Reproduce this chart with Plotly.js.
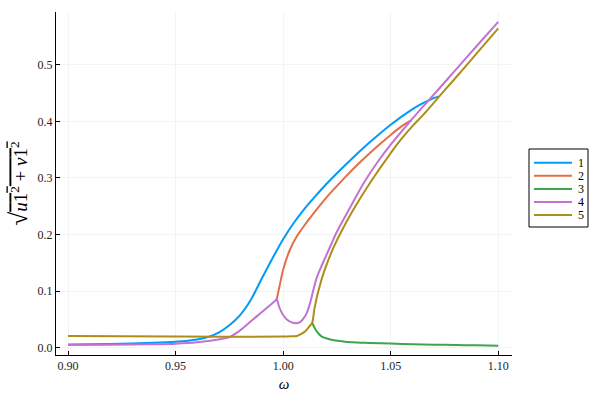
<!DOCTYPE html>
<html>
<head>
<meta charset="utf-8">
<script src="https://cdn.plot.ly/plotly-3.0.1.min.js"></script>
<style>html,body{margin:0;padding:0;background:#fff}#chart{width:600px;height:400px}</style>
</head>
<body>
<div id="chart"></div>
<script>
const seriesNames = ["1", "2", "3", "4", "5"];
const seriesColors = ["#009AFA", "#E36F47", "#3EA44E", "#C371D2", "#AC8E18"];

const omega1 = [0.90, 0.92, 0.94, 0.95, 0.96, 0.965, 0.97, 0.975, 0.98, 0.985, 0.99, 0.995, 1.00, 1.005, 1.01, 1.015, 1.02, 1.03, 1.04, 1.05, 1.06, 1.065, 1.07, 1.0726];
const amp1 = [0.006, 0.007, 0.009, 0.011, 0.015, 0.019, 0.027, 0.040, 0.058, 0.085, 0.122, 0.158, 0.192, 0.221, 0.246, 0.268, 0.289, 0.327, 0.362, 0.394, 0.421, 0.432, 0.441, 0.444];

const omega2 = [0.997, 0.9986, 1.0, 1.003, 1.0065, 1.0087, 1.0126, 1.02, 1.028, 1.035, 1.042, 1.05, 1.055, 1.0583, 1.0598];
const amp2 = [0.086, 0.114, 0.138, 0.172, 0.198, 0.210, 0.230, 0.265, 0.298, 0.325, 0.350, 0.376, 0.391, 0.399, 0.402];

const omega3 = [1.0135, 1.0150, 1.0165, 1.018, 1.020, 1.023, 1.027, 1.032, 1.04, 1.05, 1.06, 1.07, 1.08, 1.09, 1.10];
const amp3 = [0.0445, 0.033, 0.025, 0.020, 0.017, 0.014, 0.012, 0.010, 0.0088, 0.0076, 0.0066, 0.0058, 0.0051, 0.0045, 0.0040];

const omega4 = [0.90, 0.92, 0.94, 0.95, 0.96, 0.97, 0.975, 0.98, 0.985, 0.99, 0.9962, 0.997, 0.998, 0.999, 1.0, 1.0017, 1.004, 1.0063, 1.008, 1.0095, 1.011, 1.0126, 1.0141, 1.0157, 1.0172, 1.02, 1.0227, 1.025, 1.03, 1.0381, 1.045, 1.05, 1.055, 1.0595, 1.065, 1.07, 1.08, 1.09, 1.10];
const amp4 = [0.005, 0.0055, 0.0065, 0.0075, 0.010, 0.015, 0.019, 0.031, 0.047, 0.063, 0.083, 0.086, 0.074, 0.065, 0.058, 0.050, 0.045, 0.0435, 0.046, 0.052, 0.062, 0.080, 0.103, 0.125, 0.139, 0.163, 0.186, 0.205, 0.240, 0.295, 0.334, 0.359, 0.382, 0.402, 0.426, 0.447, 0.490, 0.533, 0.5755];

const omega5 = [0.90, 0.95, 1.0, 1.004, 1.0063, 1.008, 1.0102, 1.012, 1.0135, 1.0145, 1.0157, 1.0172, 1.0188, 1.021, 1.0234, 1.027, 1.032, 1.0405, 1.05, 1.055, 1.06, 1.065, 1.0726, 1.075, 1.08, 1.09, 1.10];
const amp5 = [0.021, 0.020, 0.020, 0.0205, 0.021, 0.024, 0.029, 0.037, 0.0445, 0.068, 0.090, 0.112, 0.132, 0.155, 0.177, 0.205, 0.240, 0.292, 0.344, 0.369, 0.391, 0.411, 0.444, 0.4545, 0.476, 0.520, 0.564];

const xTicks = [0.90, 0.95, 1.00, 1.05, 1.10];
const yTicks = [0.0, 0.1, 0.2, 0.3, 0.4, 0.5];

const xs = [omega1, omega2, omega3, omega4, omega5];
const ys = [amp1, amp2, amp3, amp4, amp5];

const font = "'Liberation Serif', 'DejaVu Serif', serif";

const traces = seriesNames.map((n, i) => ({
  x: xs[i], y: ys[i], name: n, type: 'scatter', mode: 'lines',
  line: {color: seriesColors[i], width: 2, shape: 'spline', smoothing: 0.8},
  showlegend: false
}));

// plot area in pixels (for legend placement)
const PL = 56, PR = 512, PT = 12, PB = 355;
const px2x = p => (p - PL) / (PR - PL);
const px2y = p => (PB - p) / (PB - PT);

const shapes = [{
  type: 'rect', xref: 'paper', yref: 'paper',
  x0: px2x(529), x1: px2x(588), y0: px2y(227), y1: px2y(149),
  line: {color: '#000', width: 1}, fillcolor: '#fff'
}];
const annotations = [];
seriesNames.forEach((n, i) => {
  const yy = px2y(162.7 + i * 13.1);
  shapes.push({type: 'line', xref: 'paper', yref: 'paper',
    x0: px2x(534), x1: px2x(572), y0: yy, y1: yy,
    line: {color: seriesColors[i], width: 2}});
  annotations.push({xref: 'paper', yref: 'paper', x: px2x(575.5), y: yy,
    xanchor: 'left', yanchor: 'middle', showarrow: false, text: n,
    font: {family: font, size: 12, color: '#000'}});
});

const axisCommon = {
  showgrid: true, gridcolor: '#ececec', gridwidth: 0.6,
  zeroline: false, showline: true, linecolor: '#000', linewidth: 1,
  ticks: 'inside', ticklen: 4, tickcolor: '#000', mirror: false,
  tickfont: {family: font, size: 12, color: '#222'}
};

const layout = {
  width: 600, height: 400,
  margin: {l: PL, r: 600 - PR, t: PT, b: 400 - PB},
  paper_bgcolor: '#fff', plot_bgcolor: '#fff',
  showlegend: false,
  shapes: shapes,
  annotations: annotations,
  xaxis: Object.assign({}, axisCommon, {
    range: [0.8944, 1.1064], tickvals: xTicks, tickformat: '.2f',
    title: {text: '<i>ω</i>', font: {family: font, size: 15, color: '#000'}, standoff: 6}
  }),
  yaxis: Object.assign({}, axisCommon, {
    range: [-0.0125, 0.593], tickvals: yTicks, tickformat: '.1f',
    title: {text: '<span style="font-size:25px">√</span><span style="text-decoration:overline"><i>u</i>1<sup>2</sup> + <i>v</i>1<sup>2</sup></span>', font: {family: font, size: 19, color: '#000'}, standoff: 4}
  })
};

Plotly.newPlot('chart', traces, layout, {displayModeBar: false, staticPlot: true});
</script>
</body>
</html>
